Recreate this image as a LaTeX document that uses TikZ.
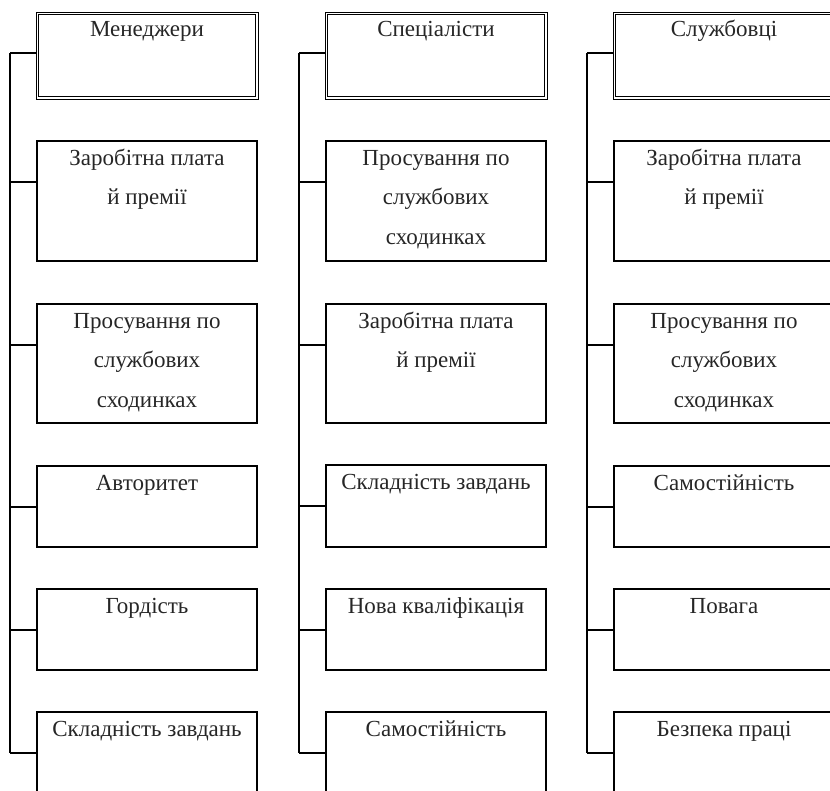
\documentclass[tikz,border=0pt]{standalone}
\usepackage{fontspec}
\setmainfont{Liberation Serif}
% centred lines whose reference point is the baseline of the first line
\newcommand{\cellines}[1]{\begin{tabular}[t]{@{}c@{}}#1\end{tabular}}
\begin{document}
\begin{tikzpicture}[x=1pt,y=-1pt,
  box/.style={draw, line width=1.1pt, anchor=north west, minimum width=220pt,
    minimum height=#1, inner sep=0pt, outer sep=0pt},
  head/.style={draw, line width=0.8pt, anchor=north west, minimum width=222pt,
    minimum height=87pt, inner sep=0pt, outer sep=0pt},
  inner/.style={line width=1.4pt},
  lbl/.style={anchor=base, inner sep=0pt, text=black!85, font=\fontsize{23}{39.5}\selectfont},
  wire/.style={line width=1.1pt}]
\useasboundingbox (0,0) rectangle (830,791);

% ---- column 1: managers
\node[head] (h1) at (36,12) {};
\node[box=120pt] (a2) at (37,141) {};
\node[box=119pt] (a3) at (37,304) {};
\node[box=81pt]  (a4) at (37,466) {};
\node[box=81pt]  (a5) at (37,589) {};
\node[box=100pt] (a6) at (37,712) {};
% ---- column 2: specialists
\node[head] (h2) at (325,12) {};
\node[box=120pt] (b2) at (326,141) {};
\node[box=119pt] (b3) at (326,304) {};
\node[box=82pt]  (b4) at (326,465) {};
\node[box=81pt]  (b5) at (326,589) {};
\node[box=100pt] (b6) at (326,712) {};
% ---- column 3: clerks
\node[head] (h3) at (613,12) {};
\node[box=120pt] (c2) at (614,141) {};
\node[box=119pt] (c3) at (614,304) {};
\node[box=81pt]  (c4) at (614,466) {};
\node[box=81pt]  (c5) at (614,589) {};
\node[box=100pt] (c6) at (614,712) {};

% inner line of the double-framed headers
\foreach \h in {h1,h2,h3}
  \draw[inner] ([shift={(2.5,2.5)}]\h.north west) rectangle ([shift={(-2.5,-2.5)}]\h.south east);

% ---- labels
\node[lbl] (th1) at ([yshift=-25pt]h1.north) {\cellines{Менеджери}};
\node[lbl] (ta2) at ([yshift=-24.5pt]a2.north) {\cellines{Заробітна плата\\й премії}};
\node[lbl] (ta3) at ([yshift=-24.5pt]a3.north) {\cellines{Просування по\\службових\\сходинках}};
\node[lbl] (ta4) at ([yshift=-24.5pt]a4.north) {\cellines{Авторитет}};
\node[lbl] (ta5) at ([yshift=-24.5pt]a5.north) {\cellines{Гордість}};
\node[lbl] (ta6) at ([yshift=-24.5pt]a6.north) {\cellines{Складність завдань}};

\node[lbl] (th2) at ([yshift=-25pt]h2.north) {\cellines{Спеціалісти}};
\node[lbl] (tb2) at ([yshift=-24.5pt]b2.north) {\cellines{Просування по\\службових\\сходинках}};
\node[lbl] (tb3) at ([yshift=-24.5pt]b3.north) {\cellines{Заробітна плата\\й премії}};
\node[lbl] (tb4) at ([yshift=-24.5pt]b4.north) {\cellines{Складність завдань}};
\node[lbl] (tb5) at ([yshift=-24.5pt]b5.north) {\cellines{Нова кваліфікація}};
\node[lbl] (tb6) at ([yshift=-24.5pt]b6.north) {\cellines{Самостійність}};

\node[lbl] (th3) at ([yshift=-25pt]h3.north) {\cellines{Службовці}};
\node[lbl] (tc2) at ([yshift=-24.5pt]c2.north) {\cellines{Заробітна плата\\й премії}};
\node[lbl] (tc3) at ([yshift=-24.5pt]c3.north) {\cellines{Просування по\\службових\\сходинках}};
\node[lbl] (tc4) at ([yshift=-24.5pt]c4.north) {\cellines{Самостійність}};
\node[lbl] (tc5) at ([yshift=-24.5pt]c5.north) {\cellines{Повага}};
\node[lbl] (tc6) at ([yshift=-24.5pt]c6.north) {\cellines{Безпека праці}};

% ---- spines and branches
\foreach \h/\l/\r in {h1/a/1, h2/b/2, h3/c/3} {
  \path ([yshift=-41pt]\h.north west) ++(-26,0) coordinate (top\r);
  \path ([yshift=-41pt]\l6.north west) ++(-27,0) coordinate (bot\r);
  \draw[wire] (top\r) -- (bot\r);
  \draw[wire] (top\r) -- ([yshift=-41pt]\h.north west);
  \foreach \k in {2,...,6}
    \draw[wire] ([yshift=-41pt]\l\k.north west) -- ++(-27,0);
}
\end{tikzpicture}
\end{document}
